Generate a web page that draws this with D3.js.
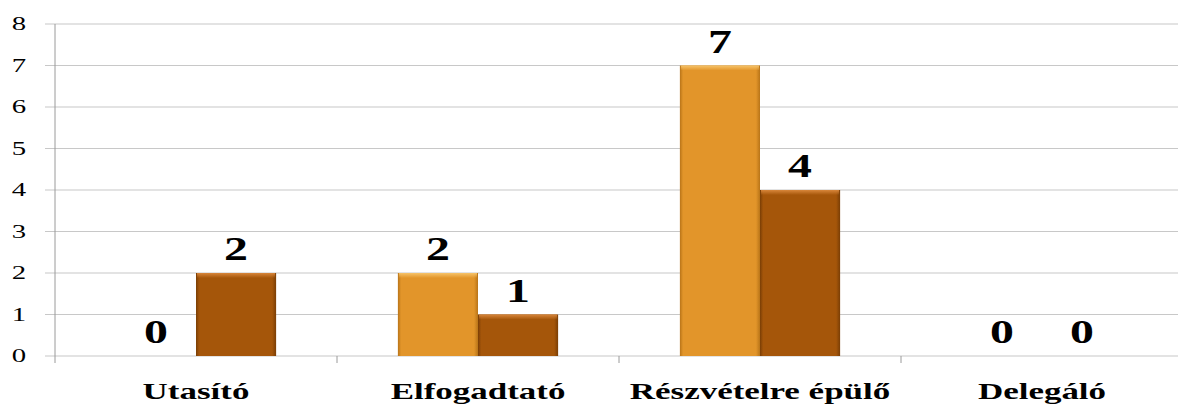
<!DOCTYPE html>
<html>
<head>
<meta charset="utf-8">
<script src="https://cdn.jsdelivr.net/npm/d3@7"></script>
<style>
  html, body { margin: 0; padding: 0; background: #fff; }
  svg { display: block; }
  text { font-family: "Liberation Serif", "DejaVu Serif", serif; fill: #000; }
</style>
</head>
<body>
<svg id="chart" width="1178" height="405"></svg>
<script>
// Leadership styles and the two series counted for each
const categories = ["Utasító", "Elfogadtató", "Részvételre épülő", "Delegáló"];
const seriesA = [0, 2, 7, 0];   // light orange bars
const seriesB = [2, 1, 4, 0];   // brown bars
const yTicks = [0, 1, 2, 3, 4, 5, 6, 7, 8];

const W = 1178, H = 405;
const margin = { left: 55, top: 24, bottom: 49 };
const plotRight = 55 + 4 * 282;

const svg = d3.select("#chart");

const x0 = d3.scaleBand().domain(categories).range([margin.left, plotRight]).paddingInner(0).paddingOuter(0);
// keep bar pairs centred in each band
const x1 = d3.scaleBand().domain(["A", "B"]).range([0, x0.bandwidth()]).paddingOuter(0.76).paddingInner(0);
const y = d3.scaleLinear().domain([0, 8]).range([H - margin.bottom, margin.top]);

// gradients for bevelled bars
const defs = svg.append("defs");
function sideGrad(id, edge, main) {
  const g = defs.append("linearGradient").attr("id", id).attr("x1", 0).attr("x2", 1).attr("y1", 0).attr("y2", 0);
  g.append("stop").attr("offset", "0%").attr("stop-color", edge);
  g.append("stop").attr("offset", "4%").attr("stop-color", main);
  g.append("stop").attr("offset", "95%").attr("stop-color", main);
  g.append("stop").attr("offset", "100%").attr("stop-color", edge);
}
sideGrad("gA", "#b87418", "#e2952a");
sideGrad("gB", "#7a3e05", "#a5560a");
function topGrad(id, light) {
  const g = defs.append("linearGradient").attr("id", id).attr("x1", 0).attr("x2", 0).attr("y1", 0).attr("y2", 1);
  g.append("stop").attr("offset", "0%").attr("stop-color", light).attr("stop-opacity", 1);
  g.append("stop").attr("offset", "100%").attr("stop-color", light).attr("stop-opacity", 0);
}
topGrad("tA", "#f7c46a");
topGrad("tB", "#d8863a");

// gridlines
svg.append("g").selectAll("line").data(yTicks).join("line")
  .attr("x1", margin.left - 10).attr("x2", W)
  .attr("y1", d => y(d)).attr("y2", d => y(d))
  .attr("stroke", "#c8c8c8").attr("stroke-width", 1.2);

// vertical axis line
svg.append("line")
  .attr("x1", margin.left).attr("x2", margin.left)
  .attr("y1", y(8)).attr("y2", y(0) + 7)
  .attr("stroke", "#9a9a9a").attr("stroke-width", 1);

// category separators
const seps = categories.slice(1).map(c => x0(c));
svg.append("g").selectAll("line").data(seps).join("line")
  .attr("x1", d => d).attr("x2", d => d)
  .attr("y1", y(0)).attr("y2", y(0) + 7)
  .attr("stroke", "#9a9a9a").attr("stroke-width", 1);

// y tick labels
svg.append("g").selectAll("text").data(yTicks).join("text")
  .attr("transform", d => `translate(19,${y(d) + 6}) scale(1.6,1)`)
  .attr("text-anchor", "middle")
  .style("font-size", "18px")
  .text(d => d);

// bars
const rows = categories.map((c, i) => ({ c, vals: [{ k: "A", v: seriesA[i] }, { k: "B", v: seriesB[i] }] }));
const groups = svg.append("g").selectAll("g").data(rows).join("g")
  .attr("transform", d => `translate(${x0(d.c)},0)`);

const bars = groups.selectAll("g.bar").data(d => d.vals).join("g").attr("class", "bar");
bars.filter(d => d.v > 0).append("rect")
  .attr("x", d => x1(d.k)).attr("width", x1.bandwidth())
  .attr("y", d => y(d.v)).attr("height", d => y(0) - y(d.v))
  .attr("fill", d => d.k === "A" ? "url(#gA)" : "url(#gB)");
bars.filter(d => d.v > 0).append("rect")
  .attr("x", d => x1(d.k) + 1).attr("width", x1.bandwidth() - 2)
  .attr("y", d => y(d.v)).attr("height", 5)
  .attr("fill", d => d.k === "A" ? "url(#tA)" : "url(#tB)");

// value labels
bars.append("text")
  .attr("transform", d => `translate(${x1(d.k) + x1.bandwidth() / 2},${y(d.v) - 13}) scale(1.45,1)`)
  .attr("text-anchor", "middle")
  .style("font-size", "33px").style("font-weight", "bold")
  .text(d => d.v);

// category labels
svg.append("g").selectAll("text").data(categories).join("text")
  .attr("transform", d => `translate(${x0(d) + x0.bandwidth() / 2},399) scale(1.52,1)`)
  .attr("text-anchor", "middle")
  .style("font-size", "23px").style("font-weight", "bold")
  .text(d => d);
</script>
</body>
</html>
